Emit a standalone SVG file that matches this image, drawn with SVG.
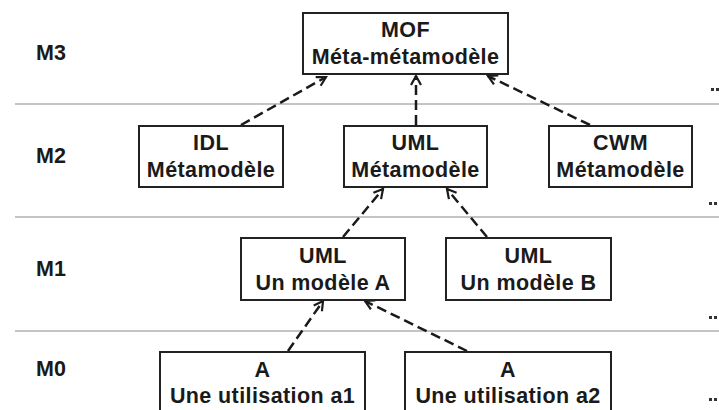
<svg xmlns="http://www.w3.org/2000/svg" width="719" height="410" viewBox="0 0 719 410">
  <style>
    .lvl { stroke: #c4c4c4; stroke-width: 2; fill: none; }
    .box { fill: #ffffff; stroke: #222222; stroke-width: 2; }
    .txt { font-family: "Liberation Sans", Arial, sans-serif; font-weight: bold; font-size: 21.5px; letter-spacing: 0.4px; fill: #1a1a1a; text-anchor: middle; }
    .lab { font-family: "Liberation Sans", Arial, sans-serif; font-weight: bold; font-size: 21.5px; fill: #1a1a1a; }
    .dep { stroke: #1a1a1a; stroke-width: 2.5; stroke-dasharray: 10 5; fill: none; }
    .dots { fill: #333333; }
  </style>
  <defs>
    <marker id="open" markerUnits="userSpaceOnUse" markerWidth="14" markerHeight="14" viewBox="-12 -7 14 14" refX="0" refY="0" orient="auto">
      <path d="M -9 -5 L 0 0 L -9 5" fill="none" stroke="#1a1a1a" stroke-width="2.2"/>
    </marker>
  </defs>

  <rect width="719" height="410" fill="#ffffff"/>

  <!-- level separators -->
  <g id="levels">
    <line class="lvl" x1="15" y1="104" x2="719" y2="104"/>
    <line class="lvl" x1="15" y1="217" x2="719" y2="217"/>
    <line class="lvl" x1="15" y1="331" x2="719" y2="331"/>
  </g>

  <!-- level labels -->
  <g id="level-labels">
    <text class="lab" x="36" y="60">M3</text>
    <text class="lab" x="36" y="163">M2</text>
    <text class="lab" x="36" y="276">M1</text>
    <text class="lab" x="36" y="376">M0</text>
  </g>

  <!-- continuation dots on the right -->
  <g id="ellipsis">
    <rect class="dots" x="711" y="88" width="3" height="3"/><rect class="dots" x="716" y="88" width="3" height="3"/>
    <rect class="dots" x="709" y="202" width="3" height="3"/><rect class="dots" x="714" y="202" width="3" height="3"/>
    <rect class="dots" x="709" y="316" width="3" height="3"/><rect class="dots" x="714" y="316" width="3" height="3"/>
    <rect class="dots" x="709" y="398" width="3" height="3"/><rect class="dots" x="714" y="398" width="3" height="3"/>
  </g>

  <!-- connectors -->
  <g id="connectors">
    <line class="dep" x1="241" y1="125" x2="326" y2="77" marker-end="url(#open)"/>
    <line class="dep" x1="416" y1="125" x2="416" y2="76" marker-end="url(#open)"/>
    <line class="dep" x1="590" y1="125" x2="488" y2="76" marker-end="url(#open)"/>
    <line class="dep" x1="343" y1="237" x2="383" y2="189" marker-end="url(#open)"/>
    <line class="dep" x1="487" y1="237" x2="447" y2="189" marker-end="url(#open)"/>
    <line class="dep" x1="288" y1="351" x2="323" y2="301" marker-end="url(#open)"/>
    <line class="dep" x1="467" y1="351" x2="365" y2="301" marker-end="url(#open)"/>
  </g>

  <g id="mof">
    <rect class="box" x="303" y="13" width="205" height="61"/>
    <text class="txt" x="405.5" y="37">MOF</text>
    <text class="txt" x="405.5" y="64">Méta-métamodèle</text>
  </g>

  <g id="idl">
    <rect class="box" x="139" y="126" width="144" height="61"/>
    <text class="txt" x="211" y="150">IDL</text>
    <text class="txt" x="211" y="177">Métamodèle</text>
  </g>

  <g id="uml-meta">
    <rect class="box" x="344" y="126" width="143" height="61"/>
    <text class="txt" x="415.5" y="150">UML</text>
    <text class="txt" x="415.5" y="177">Métamodèle</text>
  </g>

  <g id="cwm">
    <rect class="box" x="549" y="126" width="143" height="61"/>
    <text class="txt" x="620.5" y="150">CWM</text>
    <text class="txt" x="620.5" y="177">Métamodèle</text>
  </g>

  <g id="uml-a">
    <rect class="box" x="241" y="238" width="164" height="62"/>
    <text class="txt" x="323" y="263">UML</text>
    <text class="txt" x="323" y="290">Un modèle A</text>
  </g>

  <g id="uml-b">
    <rect class="box" x="446" y="238" width="165" height="62"/>
    <text class="txt" x="528.5" y="263">UML</text>
    <text class="txt" x="528.5" y="290">Un modèle B</text>
  </g>

  <g id="a1">
    <rect class="box" x="160" y="352" width="205" height="70"/>
    <text class="txt" x="262.5" y="377">A</text>
    <text class="txt" x="262.5" y="403">Une utilisation a1</text>
  </g>

  <g id="a2">
    <rect class="box" x="405" y="352" width="206" height="70"/>
    <text class="txt" x="508" y="377">A</text>
    <text class="txt" x="508" y="403">Une utilisation a2</text>
  </g>
</svg>
